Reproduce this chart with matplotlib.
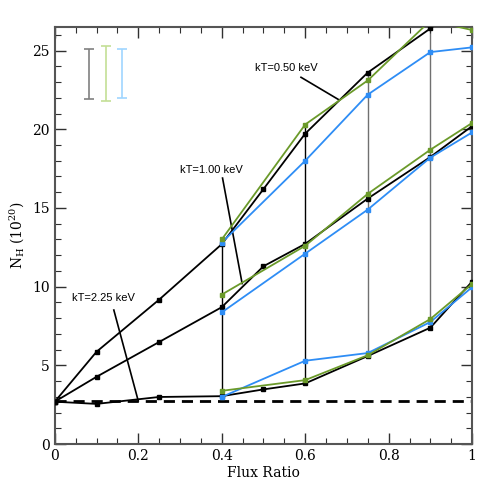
import numpy as np
import matplotlib
matplotlib.use("Agg")
import matplotlib.pyplot as plt
from matplotlib.ticker import MultipleLocator

plt.rcParams["mathtext.fontset"] = "dejavuserif"

# flux ratio sampling
x_black = [0.0, 0.1, 0.25, 0.4, 0.5, 0.6, 0.75, 0.9, 1.0]
x_col = [0.4, 0.6, 0.75, 0.9, 1.0]

# kT = 2.25 keV
hi_black = [2.7, 2.56, 3.0, 3.05, 3.48, 3.86, 5.6, 7.4, 10.33]
hi_green = [3.39, 4.07, 5.65, 7.95, 10.18]
hi_blue = [3.0, 5.3, 5.79, 7.76, 9.97]

# kT = 1.00 keV
mid_black = [2.7, 4.28, 6.49, 8.7, 11.3, 12.72, 15.6, 18.24, 20.2]
mid_green = [9.5, 12.6, 15.9, 18.7, 20.4]
mid_blue = [8.37, 12.1, 14.9, 18.2, 19.8]

# kT = 0.50 keV
lo_black = [2.7, 5.87, 9.18, 12.7, 16.2, 19.72, 23.6, 26.4, 28.5]
lo_green = [13.0, 20.3, 23.1, 26.9, 26.3]
lo_blue = [12.8, 18.0, 22.2, 24.9, 25.2]

galactic_nh = 2.75

# representative error bars (top left)
err_x = [0.083, 0.122, 0.162]
err_lo = [21.9, 21.8, 22.0]
err_hi = [25.1, 25.3, 25.1]
err_colors = ["#808080", "#c4df96", "#9fd6ff"]

GREEN = "#6b9a2a"
BLUE = "#2e8df5"

fig = plt.figure(figsize=(4.98, 4.98), dpi=100)
ax = fig.add_axes([0.110, 0.108, 0.838, 0.838])

# connecting verticals between the hottest and coolest curves
vcols = ["black", "black", "#707070", "#707070"]
for i, xv in enumerate(x_col[:4]):
    j = x_black.index(xv)
    top = max(lo_black[j], lo_green[i], lo_blue[i])
    bot = min(hi_black[j], hi_green[i], hi_blue[i])
    ax.plot([xv, xv], [bot, top], color=vcols[i], lw=1.0, zorder=1)

ax.axhline(galactic_nh, color="black", lw=2.0, ls=(0, (4, 2.5)), zorder=2)

mk = dict(marker="s", ms=3, lw=1.3)
for yb, yg, yc in [(hi_black, hi_green, hi_blue),
                   (mid_black, mid_green, mid_blue),
                   (lo_black, lo_green, lo_blue)]:
    ax.plot(x_black, yb, color="black", zorder=3, **mk)
    ax.plot(x_col, yc, color=BLUE, zorder=3, **mk)
    ax.plot(x_col, yg, color=GREEN, zorder=4, **mk)

for xe, l, h, c in zip(err_x, err_lo, err_hi, err_colors):
    ax.errorbar([xe], [(l + h) / 2], yerr=[[(h - l) / 2], [(h - l) / 2]],
                color=c, lw=1.2, capsize=3.5, capthick=1.2, fmt="none")

# labels with leader lines
sans = dict(family="Liberation Sans", fontsize=8)
ax.text(0.48, 23.7, "kT=0.50 keV", **sans)
ax.plot([0.59, 0.679], [23.3, 21.9], color="black", lw=1.2)
ax.text(0.30, 17.2, "kT=1.00 keV", **sans)
ax.plot([0.402, 0.449], [16.9, 10.2], color="black", lw=1.2)
ax.text(0.042, 9.1, "kT=2.25 keV", **sans)
ax.plot([0.1415, 0.2], [8.52, 2.75], color="black", lw=1.2)

ax.set_xlim(0, 1)
ax.set_ylim(0, 26.5)
ax.xaxis.set_minor_locator(MultipleLocator(0.05))
ax.yaxis.set_major_locator(MultipleLocator(5))
ax.yaxis.set_minor_locator(MultipleLocator(1))
ax.set_xticks([0, 0.2, 0.4, 0.6, 0.8, 1.0])
ax.set_xticklabels(["0", "0.2", "0.4", "0.6", "0.8", "1"])
ax.tick_params(which="both", direction="in", top=True, right=True,
               labelsize=10, color="#303030")
ax.tick_params(which="major", length=8, width=1.0)
ax.tick_params(which="minor", length=4, width=0.8)
for lab in ax.get_xticklabels() + ax.get_yticklabels():
    lab.set_family("DejaVu Serif")
for sp in ax.spines.values():
    sp.set_linewidth(1.5)
    sp.set_color("#555555")

ax.set_xlabel("Flux Ratio", family="DejaVu Serif", fontsize=10, labelpad=2)
ax.set_ylabel(r"N$_\mathrm{H}$ (10$^{20}$)", family="DejaVu Serif",
              fontsize=10, labelpad=4)

fig.savefig("out.png", dpi=100)
